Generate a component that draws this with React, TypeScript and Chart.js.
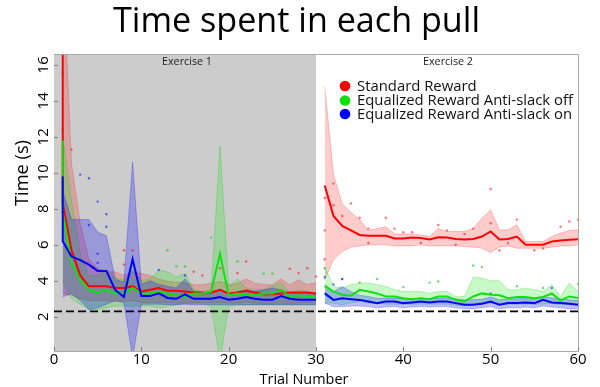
import React, { useEffect, useRef } from "react";
import { Chart, registerables } from "chart.js";

Chart.register(...registerables);

// ---------- data ----------
const trials: number[] = Array.from({ length: 60 }, (_, i) => i + 1);
const xTicks = [0, 10, 20, 30, 40, 50, 60];
const yTicks = [2, 4, 6, 8, 10, 12, 14, 16];
const baselineTime = 2.3;
const exercise1End = 30;

const seriesNames = ["Standard Reward", "Equalized Reward Anti-slack off", "Equalized Reward Anti-slack on"];

// first-trial spike of each mean line (drawn at trial 1)
const redFirstPeak = 25;
const greenFirstPeak = 11.8;
const blueFirstPeak = 9.8;

const redMean = [
  8.3, 5.7, 4.3, 3.7, 3.7, 3.7, 3.6, 3.6, 3.7, 3.4, 3.5, 3.6, 3.45, 3.45, 3.4, 3.35, 3.3, 3.35, 3.5, 3.3,
  3.35, 3.45, 3.35, 3.25, 3.25, 3.3, 3.35, 3.35, 3.35, 3.3,
  9.3, 7.6, 7.05, 6.8, 6.55, 6.5, 6.5, 6.5, 6.35, 6.35, 6.4, 6.38, 6.3, 6.42, 6.4, 6.32, 6.3, 6.32, 6.46, 6.74,
  6.3, 6.32, 6.46, 6.0, 6.0, 6.0, 6.18, 6.24, 6.28, 6.31,
];
const redUpper = [
  22, 10.5, 7.2, 5.2, 4.7, 4.5, 4.5, 4.3, 4.5, 4.4, 4.3, 4.1, 3.97, 3.92, 3.9, 3.78, 3.78, 3.87, 3.97, 3.78,
  3.87, 4.1, 3.87, 3.78, 3.78, 4.1, 3.78, 4.05, 3.78, 3.9,
  14.8, 9.9, 8.3, 7.8, 7.4, 6.8, 6.9, 7.0, 6.6, 6.6, 6.6, 6.55, 6.46, 6.9, 6.74, 6.74, 6.74, 6.9, 7.48, 7.94,
  6.83, 6.83, 7.11, 6.18, 6.18, 6.18, 6.46, 6.65, 6.8, 6.83,
];
const redLower = [
  3.3, 3.2, 3.0, 2.9, 2.9, 2.9, 2.85, 2.85, 2.9, 2.8, 2.8, 2.8, 2.78, 2.76, 2.76, 2.76, 2.78, 2.76, 2.8, 2.76,
  2.76, 2.8, 2.76, 2.72, 2.72, 2.76, 2.72, 2.76, 2.76, 2.76,
  4.05, 5.17, 5.63, 5.87, 5.94, 6.0, 6.0, 6.0, 5.94, 5.94, 5.94, 6.0, 5.94, 5.94, 5.94, 5.94, 5.9, 5.87, 5.81, 5.57,
  5.87, 5.94, 5.81, 5.81, 5.81, 5.81, 5.87, 5.94, 5.94, 6.0,
];

const greenMean = [
  7.8, 5.0, 4.05, 3.5, 3.35, 3.5, 3.3, 3.3, 3.6, 3.3, 3.3, 3.4, 3.3, 3.2, 3.1, 3.3, 3.3, 3.4, 5.5, 3.2,
  3.3, 3.2, 3.2, 3.3, 3.3, 3.5, 3.1, 3.2, 3.1, 3.1,
  3.72, 3.4, 3.22, 3.17, 3.5, 3.4, 3.3, 3.13, 3.13, 3.03, 2.98, 3.03, 2.98, 3.13, 3.13, 2.94, 2.85, 3.13, 3.3, 3.22,
  3.2, 3.03, 3.1, 3.1, 3.03, 3.1, 3.3, 2.9, 3.13, 3.05,
];
const greenUpper = [
  12, 8.5, 5.5, 4.3, 4.3, 4.6, 4.2, 4.0, 4.6, 4.0, 4.1, 4.6, 4.5, 4.2, 4.4, 3.5, 3.4, 3.5, 11.5, 3.7,
  4.1, 3.6, 3.5, 3.5, 3.7, 3.9, 3.3, 3.5, 3.4, 3.3,
  4.8, 3.68, 3.6, 3.78, 3.87, 3.87, 3.78, 3.68, 3.5, 3.4, 3.4, 3.4, 3.3, 3.4, 3.4, 3.13, 3.13, 4.2, 4.15, 4.0,
  4.0, 3.5, 3.5, 3.6, 3.5, 3.4, 3.78, 3.13, 3.87, 3.4,
];
const greenLower = [
  4.0, 3.0, 2.7, 2.4, 2.4, 2.5, 2.6, 2.6, 2.6, 2.6, 2.6, 2.5, 2.58, 2.67, 2.76, 2.76, 2.76, 2.58, -0.5, 2.58,
  2.67, 2.67, 2.67, 2.67, 2.67, 2.67, 2.67, 2.67, 2.67, 2.67,
  2.76, 2.76, 2.67, 2.76, 2.85, 2.76, 2.76, 2.7, 2.7, 2.7, 2.7, 2.7, 2.7, 2.7, 2.7, 2.65, 2.6, 2.7, 2.8, 2.75,
  2.7, 2.7, 2.7, 2.7, 2.7, 2.7, 2.75, 2.65, 2.7, 2.7,
];

const blueMean = [
  6.2, 5.35, 5.15, 4.9, 4.55, 4.55, 3.5, 3.1, 5.2, 3.15, 3.15, 3.3, 3.05, 3.0, 3.25, 3.0, 3.0, 3.0, 3.1, 2.95,
  3.0, 3.1, 3.0, 2.95, 2.95, 3.15, 3.0, 2.95, 2.95, 2.95,
  3.3, 2.94, 3.03, 2.98, 2.94, 2.85, 2.76, 2.85, 2.85, 2.76, 2.8, 2.85, 2.8, 2.85, 2.85, 2.76, 2.67, 2.67, 2.72, 2.85,
  2.67, 2.76, 2.76, 2.8, 2.76, 2.94, 2.8, 2.76, 2.72, 2.67,
];
const blueUpper = [
  9.0, 7.4, 7.4, 7.4, 6.7, 6.5, 4.1, 3.9, 10.6, 3.8, 4.0, 3.8, 3.7, 3.6, 4.1, 3.4, 3.4, 3.3, 3.5, 3.3,
  3.4, 3.5, 3.4, 3.5, 3.6, 3.5, 3.3, 3.3, 3.3, 3.3,
  3.78, 3.4, 3.68, 3.4, 3.2, 3.13, 3.03, 3.03, 3.03, 3.0, 3.0, 3.03, 3.0, 3.03, 3.03, 3.0, 2.95, 2.95, 2.98, 3.1,
  2.95, 3.0, 3.0, 3.03, 3.0, 3.13, 3.05, 3.0, 2.95, 2.9,
];
const blueLower = [
  3.1, 3.3, 2.9, 2.4, 2.5, 2.7, 2.9, 2.8, -0.3, 2.7, 2.7, 2.7, 2.67, 2.67, 2.7, 2.67, 2.67, 2.67, 2.67, 2.67,
  2.67, 2.67, 2.67, 2.67, 2.67, 2.67, 2.67, 2.67, 2.67, 2.67,
  2.76, 2.57, 2.57, 2.6, 2.6, 2.57, 2.5, 2.55, 2.57, 2.5, 2.55, 2.57, 2.55, 2.57, 2.57, 2.5, 2.45, 2.45, 2.5, 2.57,
  2.45, 2.5, 2.5, 2.55, 2.5, 2.6, 2.55, 2.5, 2.45, 2.45,
];

// individual runs (trial, time) that stand out of the bands
const redRuns: [number, number][] = [
  [1, 15.5], [2, 11.3], [1, 12.4], [8, 5.7], [9, 5.7], [8, 4.9], [16, 4.5], [17, 4.3], [19, 4.7], [21, 4.43],
  [22, 5.07], [27, 4.67], [28, 4.43], [29, 4.7], [30, 4.24], [31, 8.6], [31, 6.8], [31, 5.2], [32, 9.4], [32, 8.2],
  [33, 7.6], [34, 8.3], [35, 7.5], [36, 6.9], [38, 7.5], [39, 6.9], [41, 6.7], [44, 7.1], [45, 6.8], [48, 6.9],
  [50, 9.1], [50, 7.2], [51, 5.7], [53, 7.4], [55, 5.7], [58, 7.0], [59, 7.3], [60, 7.4], [36, 6.1], [42, 6.1],
  [46, 6.0], [52, 6.1], [56, 5.8], [40, 6.7], [47, 6.6],
];
const greenRuns: [number, number][] = [
  [1, 10.5], [2, 6.8], [13, 5.7], [14, 4.8], [15, 4.8], [18, 6.4], [21, 5.07], [24, 4.4], [25, 4.4],
  [31, 4.7], [33, 4.1], [37, 4.1], [40, 3.65], [43, 3.9], [44, 3.96], [48, 4.85], [49, 4.76], [53, 3.7],
  [60, 3.83], [56, 3.6], [35, 3.9],
];
const blueRuns: [number, number][] = [
  [1, 9.8], [1, 7.8], [3, 9.9], [4, 9.7], [5, 8.4], [6, 7.7], [6, 7.0], [4, 7.1], [5, 5.5], [5, 5.0],
  [12, 4.6], [15, 4.3], [31, 4.2], [32, 3.8], [33, 4.1], [57, 3.6], [50, 3.3],
];

// ---------- helpers ----------
const RED = "#ff0000";
const GREEN = "#10e010";
const BLUE = "#0000ff";

type Pt = { x: number; y: number };

function segment(values: number[], from: number, to: number): Pt[] {
  const out: Pt[] = [];
  for (let i = 0; i < trials.length; i++) {
    const t = trials[i];
    if (t >= from && t <= to) out.push({ x: t, y: values[i] });
  }
  return out;
}

function meanSegments(values: number[], peak: number): Pt[][] {
  const ex1 = segment(values, 1, exercise1End);
  return [[{ x: trials[0], y: peak }, ...ex1], segment(values, exercise1End + 1, 60)];
}

const FONT = "'Open Sans', 'DejaVu Sans', sans-serif";

function fitFont(ctx: CanvasRenderingContext2D, text: string, width: number, weight = "normal") {
  ctx.font = `${weight} 100px ${FONT}`;
  const w = ctx.measureText(text).width;
  const size = (100 * width) / w;
  return `${weight} ${size.toFixed(2)}px ${FONT}`;
}

const decorPlugin = {
  id: "decor",
  beforeDatasetsDraw(chart: any) {
    const { ctx, chartArea, scales } = chart;
    const x = scales.x;
    ctx.save();
    ctx.fillStyle = "#cccccc";
    const x0 = x.getPixelForValue(0);
    const x1 = x.getPixelForValue(exercise1End);
    ctx.fillRect(x0, chartArea.top, x1 - x0, chartArea.bottom - chartArea.top);
    ctx.restore();
  },
  afterDatasetsDraw(chart: any) {
    const { ctx, chartArea, scales } = chart;
    const x = scales.x;
    const y = scales.y;
    ctx.save();
    // baseline dashed line
    const yb = y.getPixelForValue(baselineTime);
    ctx.strokeStyle = "#000";
    ctx.lineWidth = 1.6;
    ctx.setLineDash([8, 4]);
    ctx.beginPath();
    ctx.moveTo(chartArea.left, yb);
    ctx.lineTo(chartArea.right, yb);
    ctx.stroke();
    ctx.setLineDash([]);

    // box
    ctx.strokeStyle = "#aaaaaa";
    ctx.lineWidth = 1;
    ctx.beginPath();
    ctx.moveTo(chartArea.left, chartArea.top + 0.5);
    ctx.lineTo(chartArea.right + 0.5, chartArea.top + 0.5);
    ctx.lineTo(chartArea.right + 0.5, chartArea.bottom + 0.5);
    ctx.lineTo(chartArea.left, chartArea.bottom + 0.5);
    ctx.stroke();

    // tick marks
    ctx.strokeStyle = "#808080";
    ctx.beginPath();
    for (const t of xTicks) {
      const px = Math.round(x.getPixelForValue(t)) + 0.5;
      ctx.moveTo(px, chartArea.bottom);
      ctx.lineTo(px, chartArea.bottom - 4);
    }
    for (const t of yTicks) {
      const py = Math.round(y.getPixelForValue(t)) + 0.5;
      ctx.moveTo(chartArea.left, py);
      ctx.lineTo(chartArea.left + 4, py);
    }
    ctx.stroke();

    // y tick labels (rotated)
    ctx.fillStyle = "#000";
    ctx.font = `15px ${FONT}`;
    ctx.textAlign = "center";
    ctx.textBaseline = "middle";
    for (const t of yTicks) {
      const py = y.getPixelForValue(t);
      ctx.save();
      ctx.translate(44, py);
      ctx.rotate(-Math.PI / 2);
      ctx.fillText(String(t), 0, 0);
      ctx.restore();
    }

    // axis titles
    ctx.save();
    ctx.font = fitFont(ctx, "Time (s)", 66);
    ctx.translate(23, 173);
    ctx.rotate(-Math.PI / 2);
    ctx.fillText("Time (s)", 0, 0);
    ctx.restore();
    ctx.font = fitFont(ctx, "Trial Number", 89);
    ctx.fillText("Trial Number", 304, 380);

    // title
    ctx.font = fitFont(ctx, "Time spent in each pull", 367);
    ctx.textBaseline = "alphabetic";
    ctx.fillText("Time spent in each pull", 296.5, 32);

    // exercise labels
    ctx.textBaseline = "middle";
    ctx.fillStyle = "#222";
    ctx.font = fitFont(ctx, "Exercise 1", 50);
    ctx.fillText("Exercise 1", 187, 62);
    ctx.fillText("Exercise 2", 448, 62);

    // legend
    const colors = [RED, GREEN, BLUE];
    const rows = [86, 100.5, 114];
    ctx.font = fitFont(ctx, seriesNames[1], 216);
    ctx.textAlign = "left";
    for (let i = 0; i < seriesNames.length; i++) {
      ctx.fillStyle = colors[i];
      ctx.beginPath();
      ctx.arc(345, rows[i], 5.3, 0, Math.PI * 2);
      ctx.fill();
      ctx.fillStyle = "#111";
      ctx.fillText(seriesNames[i], 357, rows[i] + 0.5);
    }
    ctx.restore();
  },
};

function buildDatasets() {
  const ds: any[] = [];
  const bands: [number[], number[], string, string, number][] = [
    [redUpper, redLower, "rgba(255,0,0,0.2)", "rgba(255,0,0,0.22)", 30],
    [greenUpper, greenLower, "rgba(0,230,0,0.22)", "rgba(0,200,0,0.25)", 29],
    [blueUpper, blueLower, "rgba(0,0,255,0.25)", "rgba(0,0,255,0.25)", 28],
  ];
  for (const [up, lo, fillC, edge, order] of bands) {
    for (const [a, b] of [[1, exercise1End], [exercise1End + 1, 60]]) {
      ds.push({
        type: "line",
        data: segment(up, a, b),
        borderColor: edge,
        borderWidth: 1,
        pointRadius: 0,
        fill: "+1",
        backgroundColor: fillC,
        order,
      });
      ds.push({
        type: "line",
        data: segment(lo, a, b),
        borderColor: edge,
        borderWidth: 1,
        pointRadius: 0,
        fill: false,
        order,
      });
    }
  }
  const runs: [[number, number][], string, number][] = [
    [redRuns, "rgba(255,0,0,0.55)", 22],
    [greenRuns, "rgba(0,200,0,0.6)", 21],
    [blueRuns, "rgba(0,0,255,0.55)", 20],
  ];
  for (const [r, c, order] of runs) {
    ds.push({
      type: "scatter",
      data: r.map(([t, v]) => ({ x: t, y: v })),
      pointRadius: 1.2,
      pointBorderWidth: 0,
      backgroundColor: c,
      showLine: false,
      order,
    });
  }
  const means: [number[], number, string, number][] = [
    [redMean, redFirstPeak, RED, 3],
    [greenMean, greenFirstPeak, GREEN, 2],
    [blueMean, blueFirstPeak, BLUE, 1],
  ];
  for (const [m, peak, c, order] of means) {
    for (const seg of meanSegments(m, peak)) {
      ds.push({
        type: "line",
        data: seg,
        borderColor: c,
        borderWidth: 2,
        pointRadius: 0,
        fill: false,
        order,
      });
    }
  }
  return ds;
}

export default function App() {
  const ref = useRef<HTMLCanvasElement | null>(null);
  useEffect(() => {
    if (!ref.current) return;
    const chart = new Chart(ref.current, {
      type: "line",
      data: { datasets: buildDatasets() },
      options: {
        responsive: false,
        animation: false,
        parsing: true,
        layout: { padding: { left: 0, right: 22, top: 54, bottom: 0 } },
        plugins: { legend: { display: false }, tooltip: { enabled: false }, title: { display: false } },
        scales: {
          x: {
            type: "linear",
            min: 0,
            max: 60,
            grid: { display: false, drawTicks: false },
            border: { display: false },
            ticks: {
              stepSize: 10,
              maxRotation: 0,
              padding: 0,
              color: "#000",
              font: { size: 15, family: FONT },
            },
            afterBuildTicks: (s: any) => {
              s.ticks = xTicks.map((v) => ({ value: v }));
            },
            afterFit: (s: any) => {
              s.height = 36;
            },
          },
          y: {
            type: "linear",
            min: 0.1,
            max: 16.6,
            grid: { display: false, drawTicks: false },
            border: { display: false },
            ticks: { display: false },
            afterBuildTicks: (s: any) => {
              s.ticks = yTicks.map((v) => ({ value: v }));
            },
            afterFit: (s: any) => {
              s.width = 54;
            },
          },
        },
      } as any,
      plugins: [decorPlugin],
    });
    return () => chart.destroy();
  }, []);
  return (
    <div style={{ position: "absolute", left: 0, top: 0, width: 600, height: 387, background: "#fff" }}>
      <canvas ref={ref} width={600} height={387} style={{ width: 600, height: 387 }} />
    </div>
  );
}
